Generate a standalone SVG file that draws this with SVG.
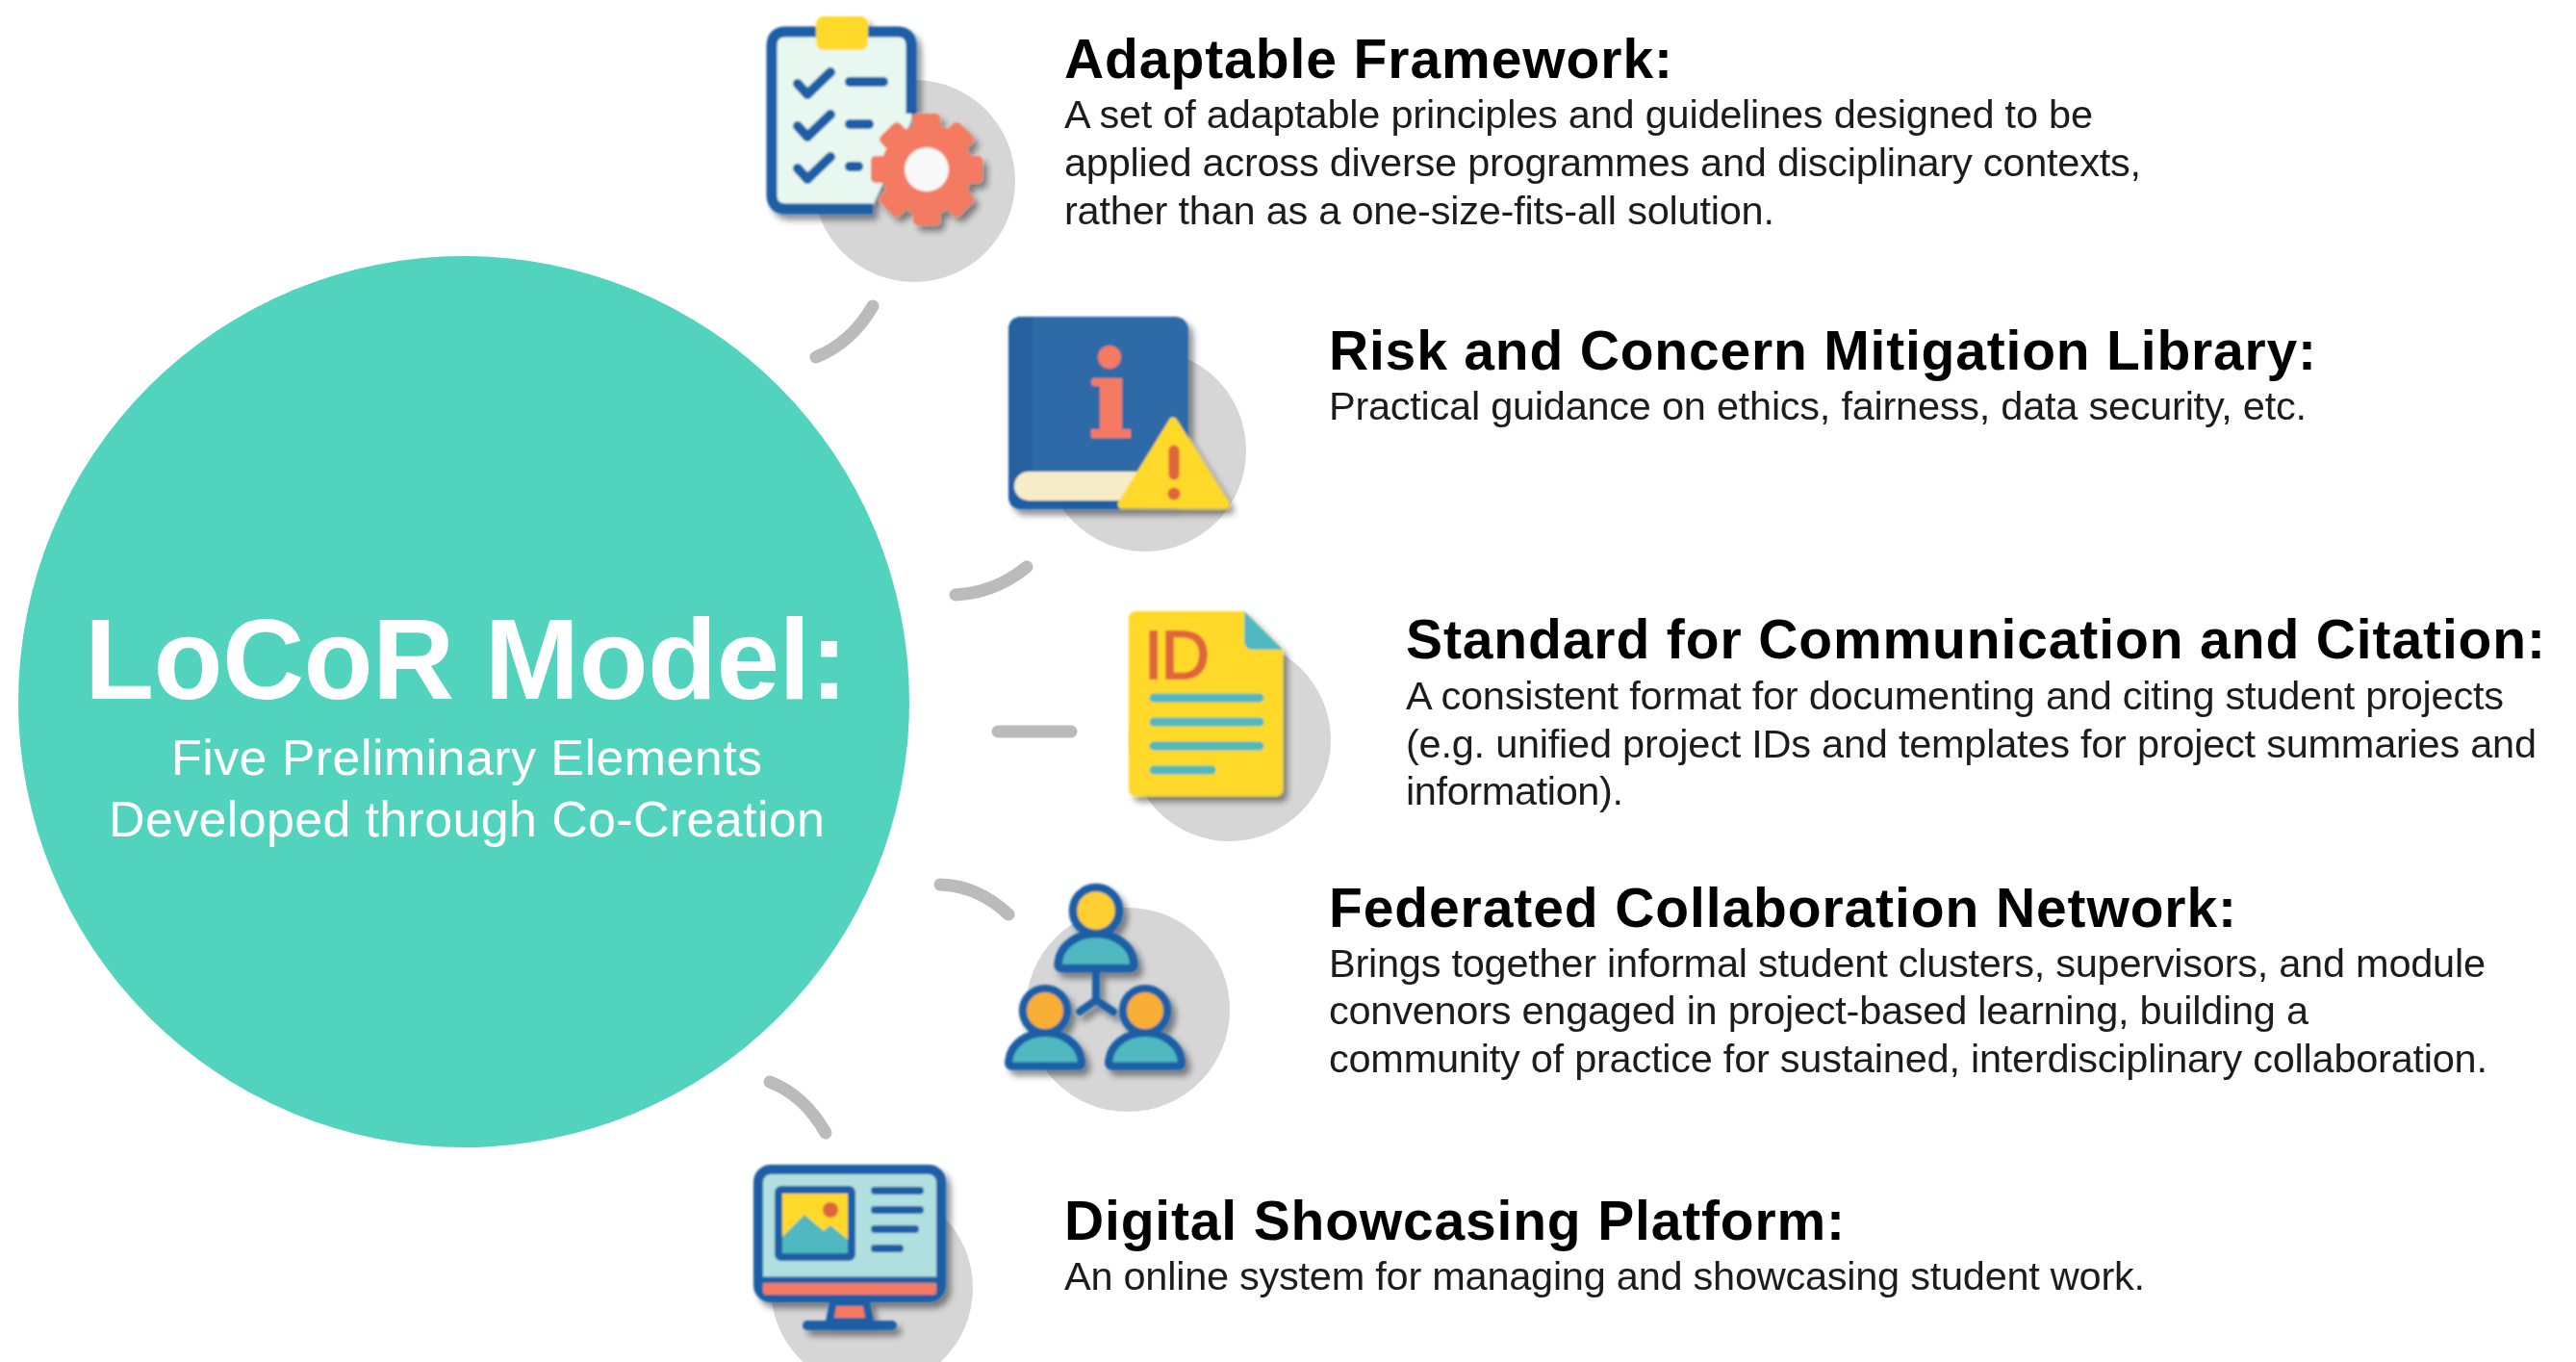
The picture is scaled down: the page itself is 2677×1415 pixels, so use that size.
<svg xmlns="http://www.w3.org/2000/svg" width="2677" height="1415" viewBox="0 0 2677 1415">
<style>
text{font-family:"Liberation Sans",Arial,sans-serif}
.t{font-size:57px;font-weight:700;fill:#000}
.b{font-size:41.5px;fill:#1c1c1c}
.bg{fill:#d6d6d6}
.c{fill:none;stroke:#bbb;stroke-width:13;stroke-linecap:round}
.blue{stroke:#1f5fa6;fill:none;stroke-linecap:round;stroke-linejoin:round}
.tl{stroke:#4fb8c0;stroke-width:9;stroke-linecap:round;fill:none}
</style>
<defs>
<filter id="sh" x="-15%" y="-15%" width="135%" height="135%">
<feGaussianBlur in="SourceAlpha" stdDeviation="3.5"/><feOffset dx="5" dy="6"/><feComponentTransfer result="s"><feFuncA type="linear" slope="0.45"/></feComponentTransfer>
<feGaussianBlur in="SourceGraphic" stdDeviation="1" result="g"/>
<feMerge><feMergeNode in="s"/><feMergeNode in="g"/></feMerge>
</filter>
<filter id="soft" x="-2%" y="-10%" width="104%" height="120%"><feGaussianBlur stdDeviation="0.7"/></filter>
<rect id="tooth" x="949" y="118" width="28" height="30" rx="5" fill="#f47a62"/>
<g id="person">
<path d="M-35,60 H35 Q41,60 39,53 C37,36 20,24 0,24 C-20,24 -37,36 -39,53 Q-41,60 -35,60Z" fill="#4fb8c0" stroke="#1f5fa6" stroke-width="8.5" stroke-linejoin="round"/>
<circle cx="0" cy="0" r="24" stroke="#1f5fa6" stroke-width="8.5"/>
</g>
</defs>
<rect width="2677" height="1415" fill="#fff"/>

<g id="connectors">
<path class="c" d="M848,371 Q885,356 907,318"/>
<path class="c" d="M993,618 Q1034,616 1067,589"/>
<path class="c" d="M1037,760 H1113"/>
<path class="c" d="M977,919 Q1016,920 1048,950"/>
<path class="c" d="M800,1124 Q836,1138 858,1177"/>
</g>

<g id="center-node">
<circle cx="482" cy="729" r="463" fill="#52d3bd"/>
<g filter="url(#soft)" text-anchor="start">
<text x="88" y="726" font-size="118" font-weight="700" fill="#fff" textLength="793" lengthAdjust="spacing">LoCoR Model:</text>
<text x="178" y="805" font-size="52" fill="#fff" textLength="614" lengthAdjust="spacing">Five Preliminary Elements</text>
<text x="113" y="869" font-size="52" fill="#fff" textLength="744" lengthAdjust="spacing">Developed through Co-Creation</text>
</g>
</g>

<g id="node-framework">
<circle class="bg" cx="950" cy="188" r="105"/>
<g filter="url(#sh)">
<path d="M817,33 H932 Q947,33 947,48 V125 L905,217 H817 Q802,217 802,202 V48 Q802,33 817,33Z" fill="#e8f7f0"/>
<path d="M907,217 H817 Q802,217 802,202 V48 Q802,33 817,33 H932 Q947,33 947,48 V118" class="blue" stroke-width="11" style="stroke-linecap:butt"/>
<rect x="848" y="17" width="54" height="35" rx="8" fill="#ffd92b"/>
<g class="blue" stroke-width="10">
<path d="M829,87 L839,98 L863,75"/><path d="M829,131 L839,142 L863,119"/><path d="M829,175 L839,186 L863,163"/>
<path d="M883,85 H918"/><path d="M883,129 H903"/><path d="M883,173 H892"/>
</g>
<g>
<circle cx="963" cy="176" r="47" fill="#f47a62"/>
<use href="#tooth"/><use href="#tooth" transform="rotate(45 963 176)"/><use href="#tooth" transform="rotate(90 963 176)"/><use href="#tooth" transform="rotate(135 963 176)"/><use href="#tooth" transform="rotate(180 963 176)"/><use href="#tooth" transform="rotate(225 963 176)"/><use href="#tooth" transform="rotate(270 963 176)"/><use href="#tooth" transform="rotate(315 963 176)"/>
<circle cx="963" cy="176" r="23" fill="#f8f8f8"/>
</g>
</g>
<g filter="url(#soft)">
<text class="t" x="1106" y="81" textLength="632" lengthAdjust="spacing">Adaptable Framework:</text>
<text class="b" x="1106" y="133" textLength="1069" lengthAdjust="spacing">A set of adaptable principles and guidelines designed to be</text>
<text class="b" x="1106" y="183" textLength="1119" lengthAdjust="spacing">applied across diverse programmes and disciplinary contexts,</text>
<text class="b" x="1106" y="233" textLength="738" lengthAdjust="spacing">rather than as a one-size-fits-all solution.</text>
</g>
</g>

<g id="node-library">
<circle class="bg" cx="1190" cy="468" r="105"/>
<g filter="url(#sh)" transform="translate(1,1)">
<rect x="1047" y="328" width="187" height="200" rx="14" fill="#2f6aa8"/>
<path d="M1061,328 H1072 V490 L1047,510 V342 Q1047,328 1061,328Z" fill="#25619f"/>
<path d="M1047,500 H1190 V528 H1061 Q1047,528 1047,514Z" fill="#1f5fa6"/>
<rect x="1053" y="489" width="160" height="30" rx="15" fill="#f8ecc8"/>
<circle cx="1152" cy="370" r="12" fill="#f47a62"/>
<path d="M1136,392 H1165 V445 H1174 V454 H1133 V445 H1142 V400 H1136 Q1133,400 1133,396 Q1133,392 1136,392Z" fill="#f47a62"/>
<path d="M1218,437 L1272,523 H1165Z" fill="#ffd92b" stroke="#ffd92b" stroke-width="9" stroke-linejoin="round"/>
<path d="M1219,467 V492" stroke="#e0653a" stroke-width="11" stroke-linecap="round"/>
<circle cx="1219" cy="512" r="6.5" fill="#e0653a"/>
</g>
<g filter="url(#soft)">
<text class="t" x="1381" y="384" textLength="1026" lengthAdjust="spacing">Risk and Concern Mitigation Library:</text>
<text class="b" x="1381" y="436" textLength="1016" lengthAdjust="spacing">Practical guidance on ethics, fairness, data security, etc.</text>
</g>
</g>

<g id="node-standard">
<circle class="bg" cx="1278" cy="769" r="105"/>
<g filter="url(#sh)">
<path d="M1181,635 H1293 L1333,675 V819 Q1333,827 1325,827 H1181 Q1173,827 1173,819 V643 Q1173,635 1181,635Z" fill="#ffd92b"/>
<path d="M1293,635 L1333,675 H1303 Q1293,675 1293,665Z" fill="#4fb8c0"/>
<text x="1189" y="705" font-size="70" font-weight="400" fill="#e0653a" stroke="#e0653a" stroke-width="2" textLength="68" lengthAdjust="spacing">ID</text>
<path class="tl" d="M1199,725 H1309M1199,750 H1309M1199,775 H1309M1199,800 H1259"/>
</g>
<g filter="url(#soft)">
<text class="t" x="1461" y="684" textLength="1184" lengthAdjust="spacing">Standard for Communication and Citation:</text>
<text class="b" x="1461" y="737" textLength="1141" lengthAdjust="spacing">A consistent format for documenting and citing student projects</text>
<text class="b" x="1461" y="787" textLength="1175" lengthAdjust="spacing">(e.g. unified project IDs and templates for project summaries and</text>
<text class="b" x="1461" y="836" textLength="226" lengthAdjust="spacing">information).</text>
</g>
</g>

<g id="node-network">
<circle class="bg" cx="1172" cy="1049" r="106"/>
<g filter="url(#sh)" transform="translate(0,2)">
<path class="blue" stroke-width="8" d="M1139,1008 V1037 M1122,1049 L1139,1037 L1157,1049"/>
<use href="#person" transform="translate(1139,944)" fill="#ffcf33"/>
<use href="#person" transform="translate(1086,1048) scale(.96)" fill="#f9ae35"/>
<use href="#person" transform="translate(1190,1048) scale(.96)" fill="#f9ae35"/>
</g>
<g filter="url(#soft)">
<text class="t" x="1381" y="963" textLength="943" lengthAdjust="spacing">Federated Collaboration Network:</text>
<text class="b" x="1381" y="1015" textLength="1202" lengthAdjust="spacing">Brings together informal student clusters, supervisors, and module</text>
<text class="b" x="1381" y="1064" textLength="1018" lengthAdjust="spacing">convenors engaged in project-based learning, building a</text>
<text class="b" x="1381" y="1114" textLength="1204" lengthAdjust="spacing">community of practice for sustained, interdisciplinary collaboration.</text>
</g>
</g>

<g id="node-platform">
<circle class="bg" cx="906" cy="1338" r="105"/>
<g filter="url(#sh)">
<path d="M866,1353 L862,1373 H904 L900,1353Z" fill="#f47a62" stroke="#1f5fa6" stroke-width="8" stroke-linejoin="round"/>
<path class="blue" stroke-width="10" d="M839,1377 H927"/>
<rect x="788" y="1215" width="190" height="133" rx="13" fill="#b0dfdf" stroke="#1f5fa6" stroke-width="10"/>
<path d="M793,1330 H973" stroke="#1f5fa6" stroke-width="7"/>
<rect x="793" y="1333" width="180" height="12" rx="3" fill="#f47a62"/>
<rect x="809" y="1236" width="76" height="70" rx="3" fill="#ffd92b" stroke="#1f5fa6" stroke-width="8"/>
<circle cx="863" cy="1257" r="8" fill="#e0653a"/>
<path d="M813,1285 L836,1262 L856,1279 L863,1273 L881,1288 V1302 H813Z" fill="#4fb8c0"/>
<path class="blue" stroke-width="8" d="M909,1237 H956 M909,1257 H956 M909,1277 H951 M909,1297 H935"/>
</g>
<g filter="url(#soft)">
<text class="t" x="1106" y="1288" textLength="811" lengthAdjust="spacing">Digital Showcasing Platform:</text>
<text class="b" x="1106" y="1340" textLength="1123" lengthAdjust="spacing">An online system for managing and showcasing student work.</text>
</g>
</g>
</svg>
